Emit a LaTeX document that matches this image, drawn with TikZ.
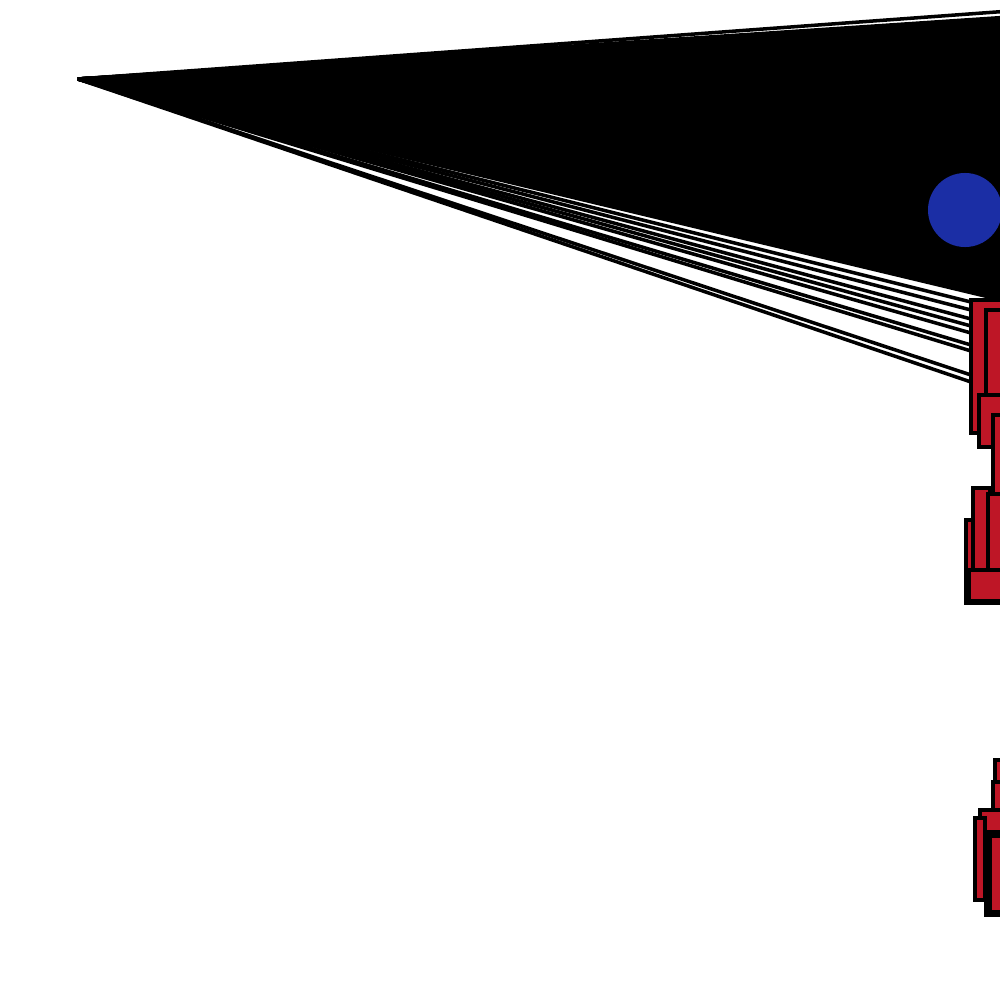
\documentclass[tikz,border=0pt]{standalone}
\definecolor{myred}{RGB}{190,22,38}
\definecolor{myblue}{RGB}{27,46,165}
\begin{document}
\begin{tikzpicture}[x=0.01cm,y=-0.01cm,
  edge/.style={line width=1pt},
  redbox/.style={draw=black,fill=myred,line width=1pt,inner sep=0pt,outer sep=0pt,anchor=north west},
  bluedot/.style={circle,fill=myblue,inner sep=0pt,minimum size=0.74cm}]
\useasboundingbox (0,0) rectangle (1000,1000);
\clip (0,0) rectangle (1000,1000);
\coordinate (hub) at (78,79);
% top edge line
\coordinate (t0) at (1010,11);
\draw[edge] (hub) -- (t0);
% dense fan of edges to the right
\foreach \i in {0,...,114} {
  \coordinate (e\i) at (1010,{17+2.5*\i});
  \draw[edge] (hub) -- (e\i);
}
% red boxes (group A)
\node[redbox,minimum width=0.39cm,minimum height=1.33cm] (a1) at (971,300) {};
\node[redbox,minimum width=0.24cm,minimum height=1.10cm] (a3) at (986,310) {};
\node[redbox,minimum width=0.31cm,minimum height=0.52cm] (a2) at (979,395) {};
\node[redbox,minimum width=0.17cm,minimum height=0.82cm] (a4) at (993,415) {};
% lower edges into group A
\foreach \yy in {302,310,319,326,333,345,351} {
  \draw[edge] (hub) -- (a1.west |- 0,\yy);
}
\draw[edge] (hub) -- (a1.west |- 0,375);
\draw[edge] (hub) -- (a1.west |- 0,382);
% group B
\node[redbox,minimum width=0.44cm,minimum height=0.83cm] (b1) at (966,520) {};
\node[redbox,minimum width=0.17cm,minimum height=0.82cm] (b2) at (973,488) {};
\node[redbox,minimum width=0.22cm,minimum height=0.84cm] (b3) at (988,494) {};
\node[redbox,minimum width=0.41cm,minimum height=0.31cm] (b4) at (969,570) {};
% group C
\node[redbox,minimum width=0.15cm,minimum height=0.90cm] (c1) at (995,760) {};
\node[redbox,minimum width=0.17cm,minimum height=0.68cm] (c2) at (993,782) {};
\node[redbox,minimum width=0.30cm,minimum height=0.85cm] (c3) at (980,810) {};
\node[redbox,minimum width=0.10cm,minimum height=0.82cm] (c4) at (975,818) {};
\node[redbox,minimum width=0.24cm,minimum height=0.83cm] (c5) at (986,832) {};
\node[redbox,minimum width=0.20cm,minimum height=0.76cm] (c6) at (990,836) {};
% blue node
\node[bluedot] (blue) at (965,210) {};
\end{tikzpicture}
\end{document}
